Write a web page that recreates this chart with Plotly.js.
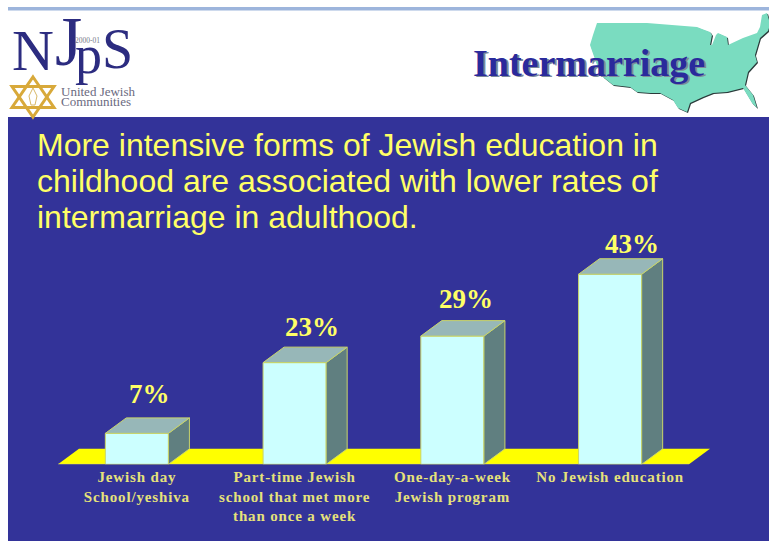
<!DOCTYPE html>
<html>
<head>
<meta charset="utf-8">
<script src="https://cdn.plot.ly/plotly-3.0.1.min.js"></script>
<style>
html,body{margin:0;padding:0;background:#fff;overflow:hidden}
#chart{width:769px;height:541px}
.xtick text{letter-spacing:.85px}
</style>
</head>
<body>
<div id="chart"></div>
<script>
// Intermarriage rate by type of childhood Jewish education
const programs = [
  "<b>Jewish day</b><br><b>School/yeshiva</b>",
  "<b>Part-time Jewish</b><br><b>school that met more</b><br><b>than once a week</b>",
  "<b>One-day-a-week</b><br><b>Jewish program</b>",
  "<b>No Jewish education</b>"
];
const rates = [7, 23, 29, 43];
const rateLabels = ["7%", "23%", "29%", "43%"];
const headlineLines = [
  "More intensive forms of Jewish education in",
  "childhood are associated with lower rates of",
  "intermarriage in adulthood."
];

const W = 769, H = 541;
const positions = rates.map((_, i) => i);
const barWidth = 0.4;
const depthX = 0.133;   // receding edge of each box, in category units
const depthY = 3.5;     // receding edge of each box, in percentage points

const YELLOW = "#ffff66", EDGE = "#c9d56a";

// Pixel helpers for the slide furniture around the plot
const fx = x => x / W;
const fy = y => 1 - y / H;
const pathOf = pts => pts.map((p, i) => (i ? "L" : "M") + fx(p[0]).toFixed(5) + "," + fy(p[1]).toFixed(5)).join(" ") + " Z";
const pageShape = (d, fill, line, width) => ({
  type: "path", xref: "paper", yref: "paper", path: d, fillcolor: fill,
  line: {color: line || fill, width: width === undefined ? 0 : width}, layer: "below"
});
const rect = (x0, y0, x1, y1, fill) => pageShape(pathOf([[x0, y0], [x1, y0], [x1, y1], [x0, y1]]), fill);

// Outline of the United States behind the topic title
const usOutline = [[597,23],[647,23],[697,27],[702,29],[710,32],[712,35],[710,45],[712,45],[716,35],[718,33],[727,37],[728,45],[743,38],[757,33],[760,27],[762,15],[767,13],[769,20],[769,28],[768,31],[760,38],[755,55],[757,62],[748,72],[745,85],[753,95],[757,108],[752,103],[743,88],[727,92],[713,93],[703,97],[690,103],[687,112],[678,108],[673,100],[660,93],[650,93],[637,92],[630,87],[613,85],[603,77],[597,65],[590,45],[593,35]];
const shifted = (pts, d) => pts.map(p => [p[0] + d, p[1] + d]);

// Star of David in the organisation's mark
const star = (cx, cy, r, dir) => [[cx, cy - dir * r], [cx + r * 1.05, cy + dir * r * 0.52], [cx - r * 1.05, cy + dir * r * 0.52]];

const boxFace = (kind) => {
  const xs = [], ys = [];
  rates.forEach((v, i) => {
    const l = positions[i] - barWidth / 2, r = positions[i] + barWidth / 2;
    if (kind === "side") {
      xs.push(r, r + depthX, r + depthX, r, r, null);
      ys.push(0, depthY, v + depthY, v, 0, null);
    } else {
      xs.push(l, r, r + depthX, l + depthX, l, null);
      ys.push(v, v, v + depthY, v + depthY, v, null);
    }
  });
  return {x: xs, y: ys};
};

const traces = [
  {type: "bar", x: positions, y: rates, width: barWidth, hoverinfo: "skip",
   marker: {color: "#ccffff", line: {color: EDGE, width: 1}}},
  Object.assign({type: "scatter", mode: "lines", fill: "toself", fillcolor: "#607f80", hoverinfo: "skip",
   line: {color: EDGE, width: 1}}, boxFace("side")),
  Object.assign({type: "scatter", mode: "lines", fill: "toself", fillcolor: "#97b7b8", hoverinfo: "skip",
   line: {color: EDGE, width: 1}}, boxFace("top"))
];

const note = (x, y, text, size, color, family, extra) => Object.assign({
  xref: "paper", yref: "paper", x: fx(x), y: fy(y), text, showarrow: false,
  xanchor: "left", yanchor: "middle", align: "left",
  font: {size, color, family}
}, extra || {});

const SERIF = "Liberation Serif", INK = "#2c2c80", GREY = "#6a6a80";

// Value labels sit above the back edge of each box
const labelShiftX = [13, 17, 14, 22];
const labelShiftY = [7, 3, 5, -2];
const valueNotes = rates.map((v, i) => ({
  xref: "x", yref: "y", x: positions[i], y: v + depthY, text: "<b>" + rateLabels[i] + "</b>",
  xshift: labelShiftX[i], yshift: labelShiftY[i], yanchor: "bottom", showarrow: false,
  font: {family: SERIF, size: 27, color: YELLOW}
}));

const headlineNotes = headlineLines.map((line, i) =>
  note(35, 145 + 36 * i, line, 32, YELLOW, "Liberation Sans"));

const layout = {
  width: W, height: H,
  margin: {l: 0, r: 0, t: 0, b: 0},
  paper_bgcolor: "#ffffff", plot_bgcolor: "rgba(0,0,0,0)",
  showlegend: false,
  xaxis: {
    domain: [fx(58), fx(710)], range: [-0.5, 3.5 + depthX], fixedrange: true,
    tickmode: "array", tickvals: positions, ticktext: programs,
    ticks: "", showgrid: false, zeroline: false, showline: false, ticklabelstandoff: 2,
    tickfont: {family: SERIF, size: 15, color: "#e6e27a"}
  },
  yaxis: {
    domain: [fy(464.3), fy(234.4)], range: [0, 52], fixedrange: true, visible: false
  },
  shapes: [
    rect(8, 117, W, H, "#333399"),
    rect(8, 7, W, 10.5, "#9db5dc"),
    pageShape(pathOf(shifted(usOutline, 1)), "#2a3a3a"),
    pageShape(pathOf(usOutline), "#7adcc0"),
    pageShape(pathOf(star(33, 97, 20, 1)), "rgba(0,0,0,0)", "#d8a93a", 3),
    pageShape(pathOf(star(33, 97, 20, -1)), "rgba(0,0,0,0)", "#d8a93a", 3),
    pageShape(pathOf([[33,88],[37,96],[35,105],[31,105],[29,96]]), "rgba(0,0,0,0)", "#d8b868", 1),
    {type: "path", xref: "x", yref: "y", layer: "below", fillcolor: "#ffff00",
     line: {color: "#ffff00", width: 0},
     path: `M-0.5,0 L3.5,0 L${3.5 + depthX},${depthY} L${-0.5 + depthX},${depthY} Z`},
    {type: "line", xref: "x", yref: "y", layer: "below", x0: -0.5, x1: 3.5, y0: 0, y1: 0,
     line: {color: "#d8d880", width: 1}}
  ],
  annotations: headlineNotes.concat([
    note(472.5, 64.5, "<b>Intermarriage</b>", 38, "#7c8a9a", SERIF),
    note(471, 63, "<b>Intermarriage</b>", 38, "#2a2a9c", SERIF),
    note(10, 50, "N", 58, INK, SERIF),
    note(53, 42, "J", 70, INK, SERIF),
    note(73, 55, "p", 54, INK, SERIF),
    note(100, 49, "S", 56, INK, SERIF),
    note(73, 40, "2000-01", 7.5, "#777788", SERIF),
    note(59, 91, "United Jewish", 13, GREY, SERIF),
    note(59, 102, "Communities", 13, GREY, SERIF)
  ]).concat(valueNotes)
};

Plotly.newPlot("chart", traces, layout, {displayModeBar: false, staticPlot: true});
</script>
</body>
</html>
